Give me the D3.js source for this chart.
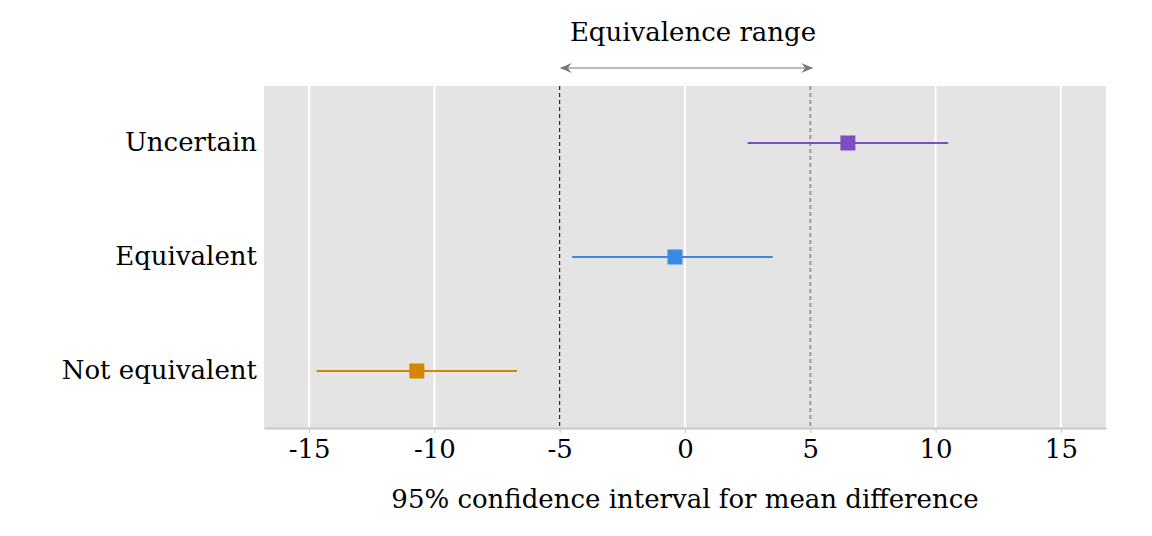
<!DOCTYPE html>
<html>
<head>
<meta charset="utf-8">
<script src="https://cdn.jsdelivr.net/npm/d3@7"></script>
<style>
  body { margin: 0; background: #fff; }
  svg { font-family: "DejaVu Serif", serif; }
</style>
</head>
<body>
<div id="chart"></div>
<script>
const WIDTH = 1152;
const HEIGHT = 536;
const MARGINS = { left: 264, right: 46, top: 86, bottom: 108 };

const VIS_WIDTH = WIDTH - MARGINS.left - MARGINS.right;
const VIS_HEIGHT = HEIGHT - MARGINS.top - MARGINS.bottom;

// data
const CATEGORIES = ["Uncertain", "Equivalent", "Not equivalent"];
const ESTIMATES = [6.5, -0.4, -10.7];
const LOWER = [2.5, -4.5, -14.7];
const UPPER = [10.5, 3.5, -6.7];
const X_TICKS = [-15, -10, -5, 0, 5, 10, 15];
const EQUIV_BOUNDS = [-5, 5];
const COLORS = ["#7b4fc0", "#3a8ae5", "#d38700"];

const rows = CATEGORIES.map((c, i) => ({
  cat: c, est: ESTIMATES[i], lo: LOWER[i], hi: UPPER[i], color: COLORS[i]
}));

const svg = d3.select("#chart").append("svg")
  .attr("width", WIDTH)
  .attr("height", HEIGHT);

const X_SCALE = d3.scaleLinear().domain([-16.8, 16.8]).range([0, VIS_WIDTH]);
const Y_SCALE = d3.scaleBand().domain(CATEGORIES).range([0, VIS_HEIGHT]).padding(0);

const g = svg.append("g").attr("transform", `translate(${MARGINS.left},${MARGINS.top})`);

// panel
g.append("rect")
  .attr("width", VIS_WIDTH)
  .attr("height", VIS_HEIGHT)
  .attr("fill", "#e4e4e4");

// white grid lines (skip the equivalence bounds, drawn dashed)
g.selectAll(".grid")
  .data(X_TICKS.filter((t) => !EQUIV_BOUNDS.includes(t)))
  .enter()
  .append("line")
  .attr("x1", (d) => X_SCALE(d))
  .attr("x2", (d) => X_SCALE(d))
  .attr("y1", 0)
  .attr("y2", VIS_HEIGHT)
  .attr("stroke", "#fff")
  .attr("stroke-width", 2);

// lower bound: thin black dashes, upper bound: grey dashes
g.append("line")
  .attr("x1", X_SCALE(EQUIV_BOUNDS[0]))
  .attr("x2", X_SCALE(EQUIV_BOUNDS[0]))
  .attr("y1", 0)
  .attr("y2", VIS_HEIGHT)
  .attr("stroke", "#000")
  .attr("stroke-width", 1)
  .attr("stroke-dasharray", "4,3");

g.append("line")
  .attr("x1", X_SCALE(EQUIV_BOUNDS[1]))
  .attr("x2", X_SCALE(EQUIV_BOUNDS[1]))
  .attr("y1", 0)
  .attr("y2", VIS_HEIGHT)
  .attr("stroke", "#999")
  .attr("stroke-width", 2)
  .attr("stroke-dasharray", "4,3");

// x axis
const xAxis = g.append("g")
  .attr("transform", `translate(0,${VIS_HEIGHT})`)
  .call(d3.axisBottom(X_SCALE).tickValues(X_TICKS).tickSize(5).tickSizeOuter(0).tickPadding(7).tickFormat(d3.format("d")));
xAxis.select(".domain").attr("stroke", "#c8c8c8").attr("stroke-width", 2);
xAxis.selectAll(".tick line").attr("stroke", "#c8c8c8").attr("stroke-width", 1);
xAxis.selectAll(".tick text")
  .attr("font-family", "DejaVu Serif, serif")
  .attr("font-size", 26)
  .attr("fill", "#000")
  .text((d) => String(d).replace("−", "-"));

// y labels
g.selectAll(".ylab")
  .data(CATEGORIES)
  .enter()
  .append("text")
  .attr("x", -7)
  .attr("y", (d) => Y_SCALE(d) + Y_SCALE.bandwidth() / 2)
  .attr("dy", "0.3em")
  .attr("text-anchor", "end")
  .attr("font-size", 26)
  .attr("fill", "#000")
  .text((d) => d);

// intervals
g.selectAll(".ci")
  .data(rows)
  .enter()
  .append("line")
  .attr("x1", (d) => X_SCALE(d.lo))
  .attr("x2", (d) => X_SCALE(d.hi))
  .attr("y1", (d) => Y_SCALE(d.cat) + Y_SCALE.bandwidth() / 2)
  .attr("y2", (d) => Y_SCALE(d.cat) + Y_SCALE.bandwidth() / 2)
  .attr("stroke", (d) => d.color)
  .attr("stroke-width", 2);

const SQ = 15;
g.selectAll(".pt")
  .data(rows)
  .enter()
  .append("rect")
  .attr("x", (d) => X_SCALE(d.est) - SQ / 2)
  .attr("y", (d) => Y_SCALE(d.cat) + Y_SCALE.bandwidth() / 2 - SQ / 2)
  .attr("width", SQ)
  .attr("height", SQ)
  .attr("fill", (d) => d.color);

// x title
svg.append("text")
  .attr("x", MARGINS.left + X_SCALE(0))
  .attr("y", 508)
  .attr("text-anchor", "middle")
  .attr("font-size", 26)
  .attr("fill", "#000")
  .text("95% confidence interval for mean difference");

// equivalence range arrow
const defs = svg.append("defs");
["start", "end"].forEach((k) => {
  defs.append("marker")
    .attr("id", `arrow-${k}`)
    .attr("viewBox", "0 0 12 10")
    .attr("refX", 11)
    .attr("refY", 5)
    .attr("markerWidth", 12)
    .attr("markerHeight", 10)
    .attr("markerUnits", "userSpaceOnUse")
    .attr("orient", k === "end" ? "auto" : "auto-start-reverse")
    .append("path")
    .attr("d", "M0,0 L12,5 L0,10 L4,5 Z")
    .attr("fill", "#777");
});

const ARROW_Y = 68;
svg.append("line")
  .attr("x1", MARGINS.left + X_SCALE(EQUIV_BOUNDS[0]) + 1)
  .attr("x2", MARGINS.left + X_SCALE(EQUIV_BOUNDS[1]) + 2)
  .attr("y1", ARROW_Y)
  .attr("y2", ARROW_Y)
  .attr("stroke", "#777")
  .attr("stroke-width", 1)
  .attr("marker-start", "url(#arrow-start)")
  .attr("marker-end", "url(#arrow-end)");

svg.append("text")
  .attr("x", MARGINS.left + X_SCALE(0) + 8)
  .attr("y", 41)
  .attr("text-anchor", "middle")
  .attr("font-size", 26)
  .attr("fill", "#000")
  .text("Equivalence range");
</script>
</body>
</html>
